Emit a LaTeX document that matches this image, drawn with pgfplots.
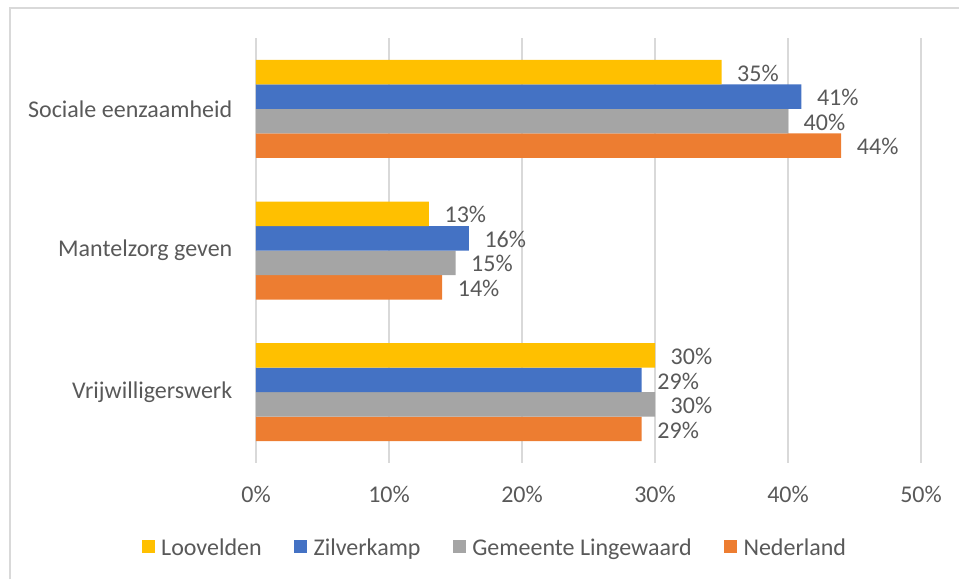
\documentclass[border=0pt]{standalone}
\usepackage{pgfplots}
\pgfplotsset{compat=1.18}
\usepackage{fontspec}
\setmainfont{Carlito}

\definecolor{cYel}{HTML}{FFC000}
\definecolor{cBlu}{HTML}{4472C4}
\definecolor{cGry}{HTML}{A5A5A5}
\definecolor{cOra}{HTML}{ED7D31}
\definecolor{txt}{HTML}{595959}
\definecolor{gridc}{HTML}{D9D9D9}

\newlength\px
\setlength\px{0.75pt}
\newcommand\lblfont{\fontsize{18}{21}\selectfont}

\begin{document}
\begin{tikzpicture}
\useasboundingbox (-256\px,-116\px) rectangle (703\px,463\px);
% outer frame (top and left edge visible)
\draw[color=gridc, line width=1.5\px] (-246\px,-116\px) -- (-246\px,455\px) -- (703\px,455\px);
\begin{axis}[
    scale only axis,
    width=665\px, height=425\px,
    xbar=0pt, bar width=24.5\px,
    xmin=0, xmax=50,
    ymin=-0.5, ymax=2.5,
    y dir=reverse,
    ytick={0,1,2},
    yticklabels={Sociale eenzaamheid, Mantelzorg geven, Vrijwilligerswerk},
    xtick={0,10,...,50},
    xticklabel={\pgfmathprintnumber{\tick}\%},
    /pgf/number format/assume math mode=true,
    axis line style={draw=none},
    major tick length=0pt,
    xmajorgrids,
    grid style={color=gridc, line width=1.3\px},
    tick label style={font=\lblfont, text=txt},
    xticklabel style={yshift=-18\px},
    yticklabel style={xshift=-19\px},
    point meta=x,
    nodes near coords={\pgfmathprintnumber\pgfplotspointmeta\%},
    nodes near coords style={font=\lblfont, text=txt, anchor=west, xshift=11\px, yshift=-1\px},
    legend columns=4,
    reverse legend,
    legend style={at={(axis description cs:0.36,-0.2)}, anchor=center, draw=none,
        font=\lblfont, text=txt,
        /tikz/every odd column/.append style={column sep=4\px},
        /tikz/every even column/.append style={column sep=30\px}},
    legend image code/.code={\fill[#1] (0pt,-4.7\px) rectangle (12.5\px,7.8\px);},
]
% plotted bottom-to-top within each group
\addplot[fill=cOra, draw=none] coordinates {(44,0) (14,1) (29,2)};
\addlegendentry{Nederland}
\addplot[fill=cGry, draw=none] coordinates {(40,0) (15,1) (30,2)};
\addlegendentry{Gemeente Lingewaard}
\addplot[fill=cBlu, draw=none] coordinates {(41,0) (16,1) (29,2)};
\addlegendentry{Zilverkamp}
\addplot[fill=cYel, draw=none] coordinates {(35,0) (13,1) (30,2)};
\addlegendentry{Loovelden}
\end{axis}
\end{tikzpicture}
\end{document}
